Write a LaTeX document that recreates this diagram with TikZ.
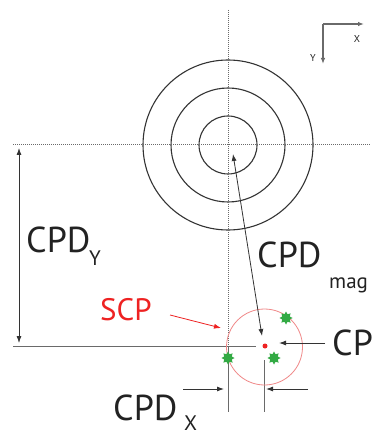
\documentclass[tikz,border=0pt]{standalone}
\usepackage{fontspec}
\setmainfont{PT Sans}
\usetikzlibrary{arrows.meta,shapes.geometric}
\definecolor{linegrey}{HTML}{6A6A6A}
\definecolor{ringgrey}{HTML}{333333}
\definecolor{textgrey}{HTML}{222222}
\definecolor{scpred}{HTML}{EE2222}
\definecolor{pinkred}{HTML}{F08888}
\definecolor{stargreen}{HTML}{33AA44}
\tikzset{
  dotline/.style={draw=linegrey, line width=1pt, dash pattern=on 1pt off 1pt},
  solidline/.style={draw=linegrey, line width=1pt},
  ring/.style={draw=ringgrey, line width=1.1pt},
  tip/.style={-{Latex[length=7pt,width=5pt]}, draw=ringgrey, line width=0.9pt},
  bigtext/.style={inner sep=0pt, anchor=base west, text=textgrey, font=\fontsize{36}{40}\selectfont},
  subtext/.style={inner sep=0pt, anchor=base west, text=textgrey, font=\fontsize{21}{23}\selectfont},
  gstar/.style={star, star points=8, star point ratio=1.6, minimum size=13pt, inner sep=0pt, fill=stargreen, draw=none},
}
\begin{document}
\begin{tikzpicture}[x=1pt,y=-1pt]
\useasboundingbox (0,0) rectangle (371,435);
\fill[white] (0,0) rectangle (371,435);

% centre and rings
\coordinate (c) at (228,145);
\draw[ring] (c) circle[radius=85];
\draw[ring] (c) circle[radius=57];
\draw[ring] (c) circle[radius=29];

% reference lines
\coordinate (vtop) at (228,10);
\coordinate (vmid) at (228,346);
\coordinate (vbot) at (228,412);
\coordinate (hl) at (13,145);
\coordinate (hr) at (371,145);
\coordinate (bl) at (13,346);
\coordinate (br) at (256,346);
\draw[dotline] (vtop) -- (vmid);
\draw[solidline] (vmid) -- (vbot);
\draw[dotline] (hl) -- (hr);
\draw[solidline] (bl) -- (br);
\coordinate (v2t) at (264,360);
\coordinate (v2b) at (264,412);
\draw[solidline] (v2t) -- (v2b);

% CPD_Y double arrow
\coordinate (ya) at (19,148);
\coordinate (yb) at (19,343);
\draw[{Latex[length=7pt,width=5pt]}-{Latex[length=7pt,width=5pt]}, draw=ringgrey, line width=0.8pt] (ya) -- (yb);

% SCP circle, dot, stars
\coordinate (scp) at (264.5,347);
\draw[draw=pinkred, line width=0.8pt] (scp) circle[radius=38];
\node[circle, fill=scpred, minimum size=5pt, inner sep=0pt] (dot) at (265,346) {};
\node[gstar] (s1) at (286,318) {};
\node[gstar] (s2) at (228,358) {};
\node[gstar] (s3) at (274,358) {};

% CPD_mag double arrow
\coordinate (ma) at (233,154);
\coordinate (mb) at (262,336);
\draw[{Latex[length=7pt,width=5pt]}-{Latex[length=7pt,width=5pt]}, draw=ringgrey, line width=0.8pt] (ma) -- (mb);

% CP arrow
\coordinate (cpa) at (325,343);
\coordinate (cpb) at (279,343);
\draw[tip] (cpa) -- (cpb);

% CPD_X arrows
\coordinate (xa1) at (183,389);
\coordinate (xb1) at (224,389);
\draw[tip] (xa1) -- (xb1);
\coordinate (xa2) at (308,389);
\coordinate (xb2) at (266,389);
\draw[tip] (xa2) -- (xb2);

% SCP red arrow
\coordinate (ra) at (170,315);
\coordinate (rb) at (221,328);
\draw[-{Latex[length=7pt,width=5pt]}, draw=scpred, line width=0.8pt] (ra) -- (rb);

% axis indicator
\coordinate (ax0) at (323,24);
\coordinate (axx) at (364,24);
\coordinate (axy) at (323,64);
\draw[-{Latex[length=6pt,width=4.5pt]}, draw=linegrey, line width=1.2pt] (ax0) -- (axx);
\draw[-{Latex[length=6pt,width=4.5pt]}, draw=linegrey, line width=1.2pt] (ax0) -- (axy);
\node[inner sep=0pt, text=textgrey, font=\fontsize{10}{12}\selectfont] (lx) at (357,39) {X};
\node[inner sep=0pt, text=textgrey, font=\fontsize{10}{12}\selectfont] (ly) at (313,58) {Y};

% labels
\node[bigtext] (cpdy) at (26,252) {CPD};
\node[subtext] (cpdys) at (89,265) {Y};
\node[bigtext] (cpdm) at (257,267) {CPD};
\node[subtext] (cpdms) at (329,288) {mag};
\node[bigtext] (cpdx) at (113,420) {CPD};
\node[subtext] (cpdxs) at (184,430) {X};
\node[bigtext] (cp) at (332,355) {CP};
\node[inner sep=0pt, anchor=base west, text=scpred, font=\fontsize{31}{34}\selectfont] (scpl) at (100,320) {SCP};
\end{tikzpicture}
\end{document}
